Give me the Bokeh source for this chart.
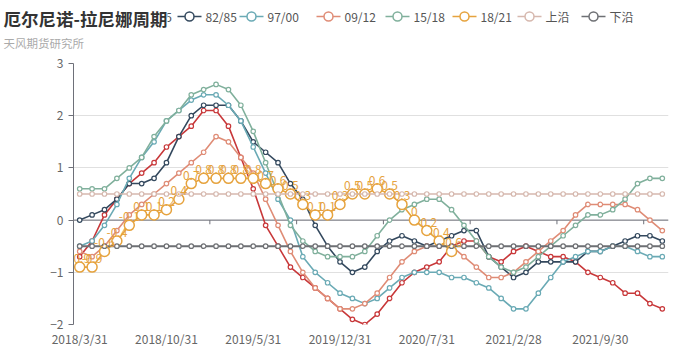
import numpy as np
from bokeh.plotting import figure
from bokeh.models import Range1d, FixedTicker, Span, Label
from bokeh.layouts import column
from bokeh.embed import file_html
from bokeh.resources import INLINE
from bokeh.core.properties import value

# ---------------- data ----------------
categories = [
    "2018/3/31", "2018/4/30", "2018/5/31", "2018/6/30", "2018/7/31", "2018/8/31",
    "2018/9/30", "2018/10/31", "2018/11/30", "2018/12/31", "2019/1/31", "2019/2/28",
    "2019/3/31", "2019/4/30", "2019/5/31", "2019/6/30", "2019/7/31", "2019/8/31",
    "2019/9/30", "2019/10/31", "2019/11/30", "2019/12/31", "2020/1/31", "2020/2/29",
    "2020/3/31", "2020/4/30", "2020/5/31", "2020/6/30", "2020/7/31", "2020/8/31",
    "2020/9/30", "2020/10/31", "2020/11/30", "2020/12/31", "2021/1/31", "2021/2/28",
    "2021/3/31", "2021/4/30", "2021/5/31", "2021/6/30", "2021/7/31", "2021/8/31",
    "2021/9/30", "2021/10/31", "2021/11/30", "2021/12/31", "2022/1/31", "2022/2/28",
]

s_72_75 = [-0.7, -0.4, 0.1, 0.4, 0.7, 0.9, 1.1, 1.4, 1.6, 1.8, 2.1, 2.1, 1.8, 1.2, 0.6, -0.1,
           -0.5, -0.9, -1.1, -1.3, -1.5, -1.7, -1.9, -2.0, -1.8, -1.5, -1.2, -1.0, -0.9, -0.8,
           -0.5, -0.4, -0.4, -0.7, -0.8, -0.6, -0.5, -0.6, -0.7, -0.7, -0.8, -1.0, -1.1, -1.2,
           -1.4, -1.4, -1.6, -1.7]
s_82_85 = [0.0, 0.1, 0.2, 0.4, 0.7, 0.7, 0.8, 1.1, 1.6, 2.0, 2.2, 2.2, 2.2, 1.9, 1.5, 1.3,
           1.1, 0.7, 0.4, -0.1, -0.5, -0.8, -1.0, -0.9, -0.6, -0.4, -0.3, -0.4, -0.5, -0.4,
           -0.3, -0.2, -0.2, -0.7, -0.9, -1.1, -1.0, -0.8, -0.8, -0.8, -0.8, -0.6, -0.6, -0.5,
           -0.4, -0.3, -0.3, -0.4]
s_97_00 = [-0.5, -0.4, -0.1, 0.3, 0.8, 1.2, 1.5, 1.9, 2.1, 2.3, 2.4, 2.4, 2.2, 1.9, 1.4, 0.9,
           0.4, 0.0, -0.7, -1.0, -1.2, -1.4, -1.5, -1.6, -1.5, -1.3, -1.1, -1.0, -1.0, -1.0,
           -1.1, -1.1, -1.2, -1.3, -1.5, -1.7, -1.7, -1.4, -1.1, -0.8, -0.7, -0.6, -0.6, -0.5,
           -0.5, -0.6, -0.7, -0.7]
s_09_12 = [-0.6, -0.7, -0.5, -0.2, 0.1, 0.3, 0.5, 0.7, 0.9, 1.1, 1.3, 1.6, 1.5, 1.2, 0.9, 0.4,
           -0.1, -0.6, -1.0, -1.3, -1.5, -1.7, -1.7, -1.6, -1.4, -1.1, -0.8, -0.6, -0.5, -0.5,
           -0.5, -0.7, -0.9, -1.1, -1.1, -1.0, -0.8, -0.6, -0.4, -0.2, 0.1, 0.3, 0.3, 0.3,
           0.3, 0.2, 0.0, -0.2]
s_15_18 = [0.6, 0.6, 0.6, 0.8, 1.0, 1.2, 1.6, 1.9, 2.1, 2.4, 2.5, 2.6, 2.5, 2.2, 1.7, 1.1,
           0.5, -0.1, -0.4, -0.6, -0.7, -0.7, -0.7, -0.6, -0.3, 0.0, 0.2, 0.3, 0.4, 0.4,
           0.2, -0.1, -0.4, -0.7, -0.9, -1.0, -0.9, -0.7, -0.5, -0.3, -0.1, 0.1, 0.1, 0.2,
           0.4, 0.7, 0.8, 0.8]
s_18_21 = [-0.9, -0.9, -0.6, -0.4, -0.1, 0.1, 0.1, 0.2, 0.4, 0.7, 0.8, 0.8, 0.8, 0.8, 0.8, 0.7,
           0.6, 0.5, 0.3, 0.1, 0.1, 0.3, 0.5, 0.5, 0.6, 0.5, 0.3, 0.0, -0.2, -0.4, -0.6]
upper_edge = [0.5] * 48
lower_edge = [-0.5] * 48

series_names = ["72/75", "82/85", "97/00", "09/12", "15/18", "18/21", "上沿", "下沿"]
series_values = [s_72_75, s_82_85, s_97_00, s_09_12, s_15_18, s_18_21, upper_edge, lower_edge]
series_colors = ["#c8383a", "#34495e", "#6aaab5", "#df8c76", "#80b09c", "#e6a33e", "#d6b8ae", "#6e7074"]

label_step = 7
zero_axis_tick_idx = [11, 18, 25, 32, 39, 46]

FONT = "Noto Sans CJK SC"
W = 688
HEAD_H = 55
MAIN_H = 304
BL, BR = 73, 20

# ---------------- header (title + legend) ----------------
head = figure(width=W, height=HEAD_H, x_range=Range1d(0, W), y_range=Range1d(HEAD_H, 0),
              output_backend="svg", toolbar_location=None, x_axis_type=None, y_axis_type=None,
              min_border=0, outline_line_color=None)

legend_x = [124, 189, 251, 328, 397, 464, 529, 593]
legend_y = 16
for name, col, lx in zip(series_names, series_colors, legend_x):
    head.line([lx - 12, lx + 12], [legend_y, legend_y], line_color=col, line_width=1.6)
    head.scatter([lx], [legend_y], size=9, marker="circle", fill_color="white",
                 line_color=col, line_width=1.5)
    head.add_layout(Label(x=lx + 16, y=legend_y, text=name, text_font=FONT,
                          text_font_size="12px", text_color="#555555",
                          text_baseline="middle", text_align="left"))

head.add_layout(Label(x=3, y=42.5, text="天风期货研究所", text_font=FONT,
                      text_font_size="11.5px", text_color="#aaaaaa",
                      text_baseline="middle", text_align="left"))
head.add_layout(Label(x=3, y=18, text="厄尔尼诺-拉尼娜周期", text_font=FONT,
                      text_font_size="17.5px", text_font_style="bold", text_color="#333333",
                      text_baseline="middle", text_align="left",
                      background_fill_color="white"))

# ---------------- main chart ----------------
n = len(categories)
p = figure(width=W, height=MAIN_H, x_range=Range1d(-0.5, n - 0.5), y_range=Range1d(-2, 3),
           output_backend="svg", toolbar_location=None,
           min_border_left=BL, min_border_right=BR, min_border_top=8, min_border_bottom=35,
           outline_line_color=None)

# keep each figure's frame independent inside the column
for fig in (head, p):
    try:
        fig.frame_align = False
    except Exception:
        pass

xt = list(range(0, n, label_step))
p.xaxis.ticker = FixedTicker(ticks=xt)
p.xaxis.major_label_overrides = {i: categories[i] for i in xt}
p.xaxis.axis_line_color = None
p.xaxis.major_tick_line_color = None
p.xaxis.minor_tick_line_color = None
p.xaxis.major_tick_out = 0
p.xaxis.major_tick_in = 0
p.xaxis.major_label_standoff = 5
p.xaxis.major_label_text_font = FONT
p.xaxis.major_label_text_font_size = "12px"
p.xaxis.major_label_text_color = "#666666"

yt = [-2, -1, 0, 1, 2, 3]
p.yaxis.ticker = FixedTicker(ticks=yt)
p.yaxis.axis_line_color = "#6E7079"
p.yaxis.major_tick_line_color = "#6E7079"
p.yaxis.minor_tick_line_color = None
p.yaxis.major_tick_out = 5
p.yaxis.major_tick_in = 0
p.yaxis.major_label_standoff = 5
p.yaxis.major_label_text_font = FONT
p.yaxis.major_label_text_font_size = "12px"
p.yaxis.major_label_text_color = "#666666"

p.xgrid.visible = False
p.ygrid.ticker = FixedTicker(ticks=yt)
p.ygrid.grid_line_color = "#e0e0e0"

p.add_layout(Span(location=0, dimension="width", line_color="#6E7079", line_width=1,
                  level="underlay"))
tx = [i - 0.5 for i in zero_axis_tick_idx]
p.segment(x0=tx, y0=[0] * len(tx), x1=tx, y1=[-0.08] * len(tx), line_color="#6E7079",
          line_width=1)

for name, vals, col in zip(series_names, series_values, series_colors):
    xs = np.arange(len(vals))
    lw = 2 if name == "下沿" else 1.6
    p.line(xs, vals, line_color=col, line_width=lw)
    if name == "18/21":
        p.scatter(xs, vals, size=10, marker="circle", fill_color="white", line_color=col,
                  line_width=1.5)
    else:
        p.scatter(xs, vals, size=4.5, marker="circle", fill_color="white", line_color=col,
                  line_width=1.2)

lab = [f"{v:g}" for v in s_18_21]
p.text(np.arange(len(s_18_21)), s_18_21, text=lab, text_font=value(FONT),
       text_font_size="12px", text_color=series_colors[5], text_align="center",
       text_baseline="bottom", y_offset=-4)

layout = column(head, p, spacing=0)
open("out.html", "w").write(file_html(layout, INLINE))
